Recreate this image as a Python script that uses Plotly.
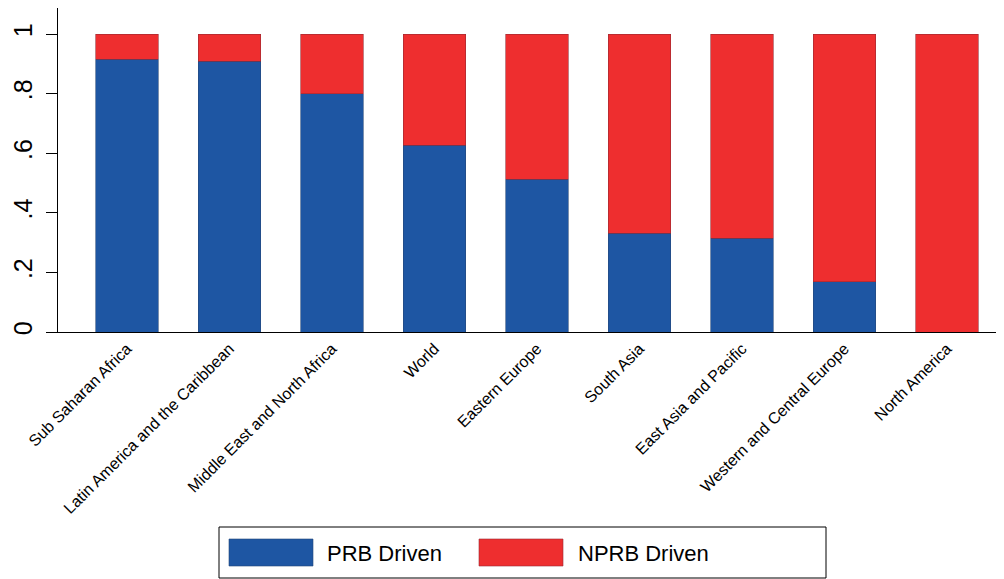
import plotly.graph_objects as go

regions = ["Sub Saharan Africa", "Latin America and the Caribbean", "Middle East and North Africa",
           "World", "Eastern Europe", "South Asia", "East Asia and Pacific",
           "Western and Central Europe", "North America"]
prb_driven = [0.916, 0.909, 0.799, 0.627, 0.513, 0.332, 0.315, 0.168, 0.0]
nprb_driven = [round(1 - v, 3) for v in prb_driven]
y_tick_vals = [0, 0.2, 0.4, 0.6, 0.8, 1.0]
y_tick_text = ["0", ".2", ".4", ".6", ".8", "1"]
series_names = ["PRB Driven", "NPRB Driven"]

BLUE = "#1e56a3"
RED = "#ee2e2f"
FONT = "Liberation Sans, Arial, Helvetica, sans-serif"

fig = go.Figure()
fig.add_trace(go.Bar(x=regions, y=prb_driven, name=series_names[0], marker=dict(color=BLUE, line=dict(color="#24477a", width=0.6)), showlegend=False))
fig.add_trace(go.Bar(x=regions, y=nprb_driven, name=series_names[1], marker=dict(color=RED, line=dict(color="#9a2a32", width=0.6)), showlegend=False))

# page body adds an 8px offset; target pixel positions are mapped accordingly
OFF = 8
FW, FH = 1004, 579
L, R, T, B = 58 - OFF, 0, 8 - OFF, FH - (332 - OFF)
W, H = FW - L - R, FH - T - B
def px(x): return (x - OFF - L) / W
def py(y): return (FH - B - (y - OFF)) / H

shapes = [
    dict(type="rect", xref="paper", yref="paper", x0=px(219), x1=px(826), y0=py(578), y1=py(527),
         line=dict(color="black", width=1), fillcolor="white"),
    dict(type="rect", xref="paper", yref="paper", x0=px(229), x1=px(313), y0=py(566), y1=py(539),
         line=dict(color="#24477a", width=0.6), fillcolor=BLUE),
    dict(type="rect", xref="paper", yref="paper", x0=px(479), x1=px(563), y0=py(566), y1=py(539),
         line=dict(color="#9a2a32", width=0.6), fillcolor=RED),
]
annotations = [
    dict(xref="paper", yref="paper", x=px(325), y=py(553), text=series_names[0], showarrow=False,
         xanchor="left", yanchor="middle", font=dict(size=22, color="black", family=FONT)),
    dict(xref="paper", yref="paper", x=px(576), y=py(553), text=series_names[1], showarrow=False,
         xanchor="left", yanchor="middle", font=dict(size=22, color="black", family=FONT)),
]

# category 0 centre at x=127px, spacing 102.5px
x0_range = -(127 - 58) / 102.5
x1_range = x0_range + W / 102.5

fig.update_layout(
    barmode="stack",
    bargap=0.395,
    width=FW, height=FH,
    margin=dict(l=L, r=R, t=T, b=B, autoexpand=False),
    paper_bgcolor="white", plot_bgcolor="white",
    font=dict(family=FONT, color="black"),
    shapes=shapes, annotations=annotations,
    showlegend=False,
)
fig.update_xaxes(
    range=[x0_range, x1_range], showline=True, linecolor="black", linewidth=1.3,
    ticks="", tickangle=-45, tickfont=dict(size=16, family=FONT, color="black"),
    showgrid=False, zeroline=False,
)
fig.update_yaxes(
    range=[0, (332 - 8) / 298], showline=True, linecolor="black", linewidth=1.3,
    tickvals=y_tick_vals, ticktext=y_tick_text, ticks="outside", ticklen=11, tickcolor="black",
    tickangle=-90, tickfont=dict(size=25, family=FONT, color="black"), ticklabelstandoff=4,
    showgrid=False, zeroline=False,
)

fig.write_html("out.html")
